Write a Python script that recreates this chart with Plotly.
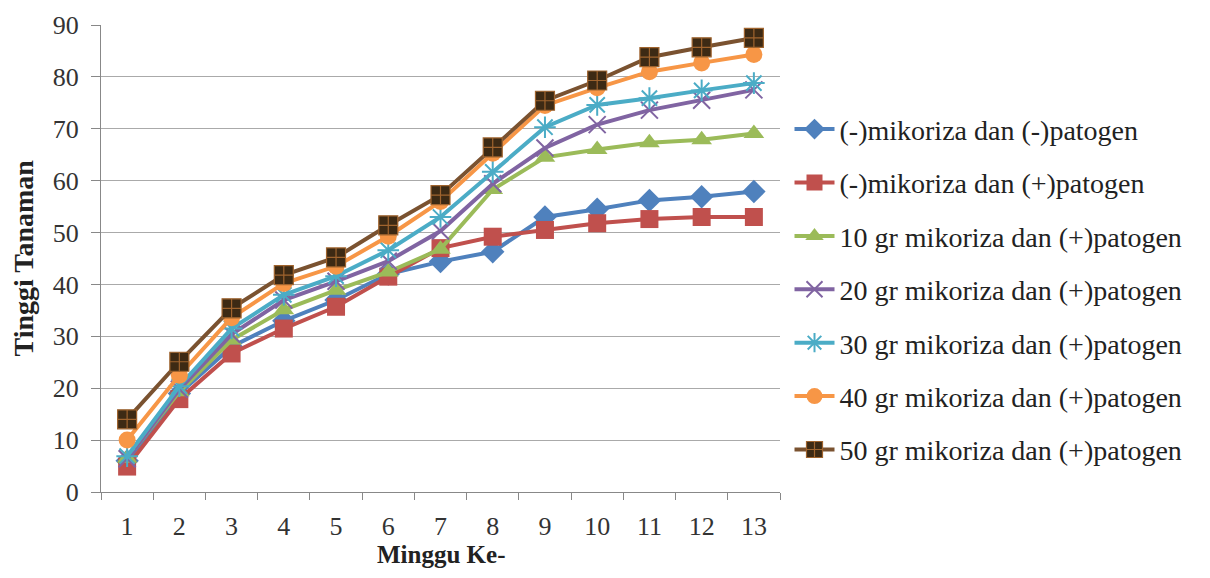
import plotly.graph_objects as go

weeks = [str(i) for i in range(1, 14)]

series_names = [
    "(-)mikoriza dan (-)patogen",
    "(-)mikoriza dan (+)patogen",
    "10 gr mikoriza dan (+)patogen",
    "20 gr mikoriza dan (+)patogen",
    "30 gr mikoriza dan (+)patogen",
    "40 gr mikoriza dan (+)patogen",
    "50 gr mikoriza dan (+)patogen",
]

neg_neg = [6.0, 19.0, 28.0, 33.0, 37.0, 42.0, 44.4, 46.3, 53.0, 54.5, 56.2, 56.9, 57.9]
neg_pos = [4.9, 17.9, 26.7, 31.5, 35.7, 41.5, 47.0, 49.2, 50.5, 51.8, 52.6, 53.0, 53.0]
m10 = [6.5, 19.3, 29.3, 35.1, 38.9, 42.4, 46.8, 58.3, 64.5, 66.0, 67.3, 67.9, 69.1]
m20 = [6.4, 19.8, 30.4, 37.0, 40.6, 44.5, 50.3, 59.4, 66.3, 70.8, 73.6, 75.5, 77.5]
m30 = [6.9, 20.4, 31.5, 38.0, 41.6, 46.6, 53.0, 61.7, 70.3, 74.6, 75.9, 77.4, 78.8]
m40 = [10.0, 22.5, 33.6, 40.2, 43.5, 49.3, 56.0, 65.3, 74.5, 77.9, 81.0, 82.7, 84.3]
m50 = [14.0, 25.1, 35.4, 41.8, 45.2, 51.4, 57.2, 66.4, 75.4, 79.3, 83.8, 85.7, 87.5]

x_title = "Minggu Ke-"
y_title = "Tinggi Tanaman"

values = [neg_neg, neg_pos, m10, m20, m30, m40, m50]
line_colors = ["#4F81BD", "#C0504D", "#9BBB59", "#8064A2", "#4BACC6", "#F79646", "#7A5230"]
marker_colors = ["#4F81BD", "#C0504D", "#9BBB59", "#8064A2", "#4BACC6", "#F79646", "#3D2A14"]
symbols = ["diamond", "square", "triangle-up", "x-thin-open", "asterisk-open", "circle", "square-cross"]
sizes = [18, 18, 18, 17, 18, 17, 19]
mline_colors = ["#4F81BD", "#C0504D", "#9BBB59", "#8064A2", "#4BACC6", "#F79646", "#A0642E"]
mline_widths = [0, 0, 0, 2, 2, 0, 1.2]

fig = go.Figure()
for i, (name, vals) in enumerate(zip(series_names, values)):
    fig.add_trace(go.Scatter(
        x=weeks, y=vals, name=name, mode="lines+markers",
        legendgroup=f"g{i}",
        line=dict(color=line_colors[i], width=4),
        marker=dict(symbol=symbols[i], size=sizes[i], color=marker_colors[i],
                    line=dict(color=mline_colors[i], width=mline_widths[i])),
    ))

font_family = '"Liberation Serif", "Times New Roman", serif'
# page has an 8px body margin, so the figure is sized/positioned to compensate
fig.update_layout(
    width=1194, height=562,
    paper_bgcolor="white", plot_bgcolor="white",
    margin=dict(l=93, r=422, t=17, b=78, autoexpand=False),
    font=dict(family=font_family, size=26, color="#222222"),
    legend=dict(
        x=1.014, y=0.83, xanchor="left", yanchor="top",
        font=dict(family=font_family, size=28, color="#222222"),
        tracegroupgap=14, itemwidth=40,
        bgcolor="rgba(0,0,0,0)",
    ),
    showlegend=True,
    annotations=[
        dict(text=f"<b>{x_title}</b>", xref="paper", yref="paper", x=0.5, y=0,
             xanchor="center", yanchor="middle", yshift=-62, showarrow=False,
             font=dict(size=25, family=font_family, color="#222222")),
        dict(text=f"<b>{y_title}</b>", xref="paper", yref="paper", x=0, y=0.5,
             xanchor="center", yanchor="middle", xshift=-78, textangle=-90, showarrow=False,
             font=dict(size=28, family=font_family, color="#222222")),
    ],
)
fig.update_xaxes(
    type="category", range=[-0.5, 12.5], tickson="boundaries", ticks="outside", ticklen=7,
    tickcolor="#888888", showline=True, linecolor="#888888", linewidth=1,
    showgrid=False, tickfont=dict(size=26, family=font_family, color="#333333"),
    ticklabelstandoff=11, automargin=False,
)
fig.update_yaxes(
    range=[0, 90], dtick=10, ticks="outside", ticklen=9, tickcolor="#888888",
    showline=True, linecolor="#888888", linewidth=1,
    showgrid=True, gridcolor="#AAAAAA", gridwidth=1, zeroline=False,
    tickfont=dict(size=26, family=font_family, color="#333333"),
    ticklabelstandoff=7, automargin=False,
)

fig.write_html("out.html")
